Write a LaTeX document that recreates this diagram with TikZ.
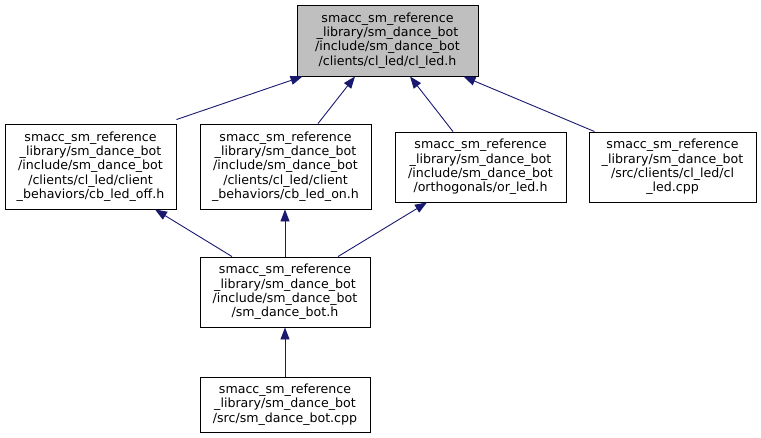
\documentclass[tikz,border=0pt]{standalone}
\usepackage{fontspec}
\setmainfont{DejaVu Sans}
\usetikzlibrary{arrows.meta}
\definecolor{edgeblue}{HTML}{191970}
\definecolor{topgrey}{HTML}{BFBFBF}
\begin{document}
\begin{tikzpicture}[x=1pt,y=-1pt,
  filebox/.style={draw=black, line width=0.9pt, rectangle, inner sep=0pt, align=center,
    font=\fontsize{12.6}{14.3}\selectfont, minimum width=#1},
  filebox/.default=171pt,
  dep/.style={draw=edgeblue, line width=0.9pt, -{Triangle[length=12pt,width=9pt]}, shorten >=0pt}]
\useasboundingbox (0,0) rectangle (761,437);
\node[filebox=181pt, fill=topgrey, minimum height=71pt] (top) at (387.5,40.5)
  {smacc\_sm\_reference\\\_library/sm\_dance\_bot\\/include/sm\_dance\_bot\\/clients/cl\_led/cl\_led.h};
\node[filebox, minimum height=85pt] (off) at (90.5,166.5)
  {smacc\_sm\_reference\\\_library/sm\_dance\_bot\\/include/sm\_dance\_bot\\/clients/cl\_led/client\\\_behaviors/cb\_led\_off.h};
\node[filebox, minimum height=85pt] (on) at (285.5,166.5)
  {smacc\_sm\_reference\\\_library/sm\_dance\_bot\\/include/sm\_dance\_bot\\/clients/cl\_led/client\\\_behaviors/cb\_led\_on.h};
\node[filebox, minimum height=70pt] (or) at (480.5,167)
  {smacc\_sm\_reference\\\_library/sm\_dance\_bot\\/include/sm\_dance\_bot\\/orthogonals/or\_led.h};
\node[filebox=167pt, minimum height=70pt] (cpp) at (672.5,167)
  {smacc\_sm\_reference\\\_library/sm\_dance\_bot\\/src/clients/cl\_led/cl\\\_led.cpp};
\node[filebox=170pt, minimum height=70pt] (h) at (285,292)
  {smacc\_sm\_reference\\\_library/sm\_dance\_bot\\/include/sm\_dance\_bot\\/sm\_dance\_bot.h};
\node[filebox=170pt, minimum height=55pt] (bcpp) at (285,404.5)
  {smacc\_sm\_reference\\\_library/sm\_dance\_bot\\/src/sm\_dance\_bot.cpp};
\draw[dep] ([yshift=4pt]off.north east) -- ([xshift=6pt]top.south west);
\draw[dep] ([xshift=32.5pt]on.north) -- ([xshift=-32.5pt]top.south);
\draw[dep] ([xshift=-27.5pt]or.north) -- ([xshift=22.5pt]top.south);
\draw[dep] ([xshift=6pt]cpp.north west) -- ([xshift=-15pt]top.south east);
\draw[dep] ([xshift=-53pt]h.north) -- ([xshift=64.5pt]off.south);
\draw[dep] (h.north) -- (h.north |- on.south);
\draw[dep] ([xshift=53pt]h.north) -- ([xshift=-53.5pt]or.south);
\draw[dep] (bcpp.north) -- (h.south);
\end{tikzpicture}
\end{document}
